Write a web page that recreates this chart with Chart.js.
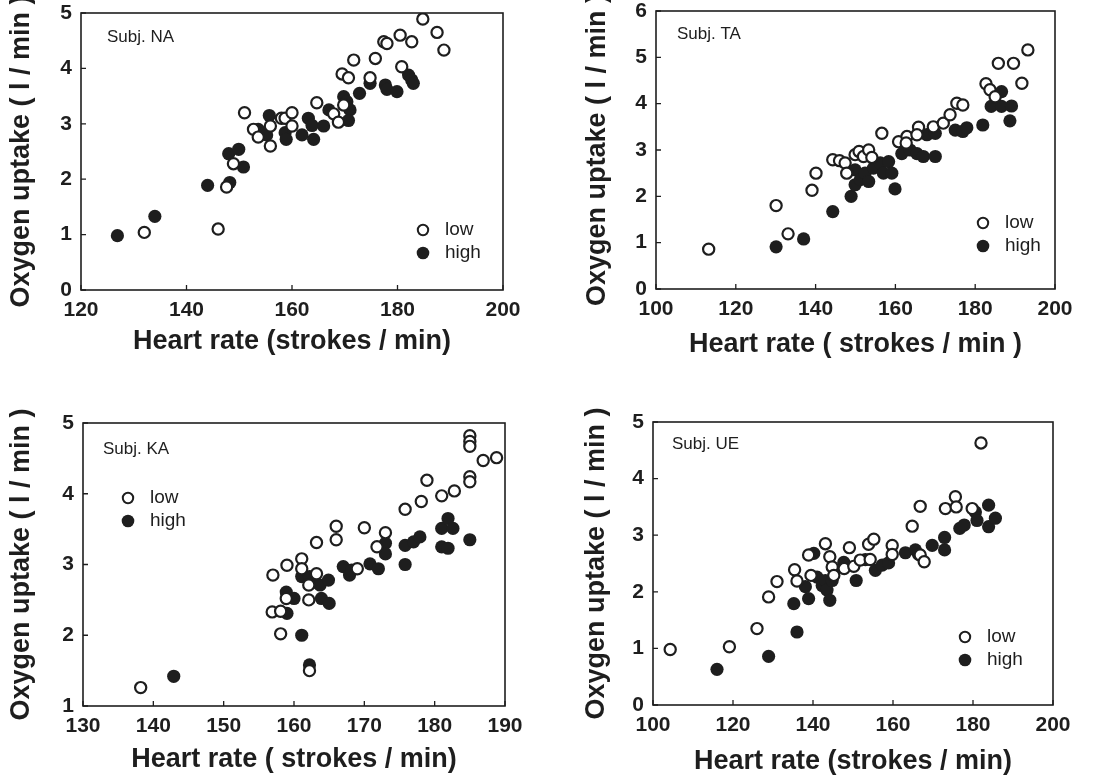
<!DOCTYPE html>
<html>
<head>
<meta charset="utf-8">
<script src="https://cdn.jsdelivr.net/npm/chart.js@4.4.0/dist/chart.umd.min.js"></script>
<style>
  html, body { margin: 0; padding: 0; background: #fff; }
  body { width: 1113px; height: 779px; position: relative; overflow: hidden; }
  canvas { position: absolute; }
</style>
</head>
<body>
<canvas id="c1" width="556" height="378" style="left:0;top:0"></canvas>
<canvas id="c2" width="557" height="378" style="left:556px;top:0"></canvas>
<canvas id="c3" width="556" height="389" style="left:0;top:390px"></canvas>
<canvas id="c4" width="557" height="389" style="left:556px;top:390px"></canvas>
<script>
// series: heart rate (strokes/min) and oxygen uptake (l/min)
const naLowHR   = [132, 146, 151, 147.6, 148.9, 152.7, 153.6, 155.9, 155.9, 158, 158.7, 160, 160, 164.7, 167.9, 168.8, 169.5, 170.7, 171.7, 169.8, 174.8, 175.8, 177.4, 178, 180.5, 180.8, 182.7, 184.8, 187.5, 188.8];
const naLowVO2  = [1.04, 1.10, 3.2, 1.86, 2.28, 2.9, 2.76, 2.96, 2.6, 3.1, 3.1, 3.2, 2.96, 3.38, 3.18, 3.03, 3.9, 3.83, 4.15, 3.34, 3.83, 4.18, 4.48, 4.45, 4.6, 4.03, 4.48, 4.89, 4.65, 4.33];
const naHighHR  = [126.9, 134, 144, 148, 148.2, 149.9, 150.8, 153.6, 154.6, 155.2, 155.7, 158.7, 158.9, 161.9, 163.1, 163.8, 164.1, 166, 167, 169.8, 170.4, 171, 170.7, 172.8, 174.8, 177.7, 178, 179.9, 182.1, 182.7, 183];
const naHighVO2 = [0.98, 1.33, 1.89, 2.46, 1.94, 2.54, 2.22, 2.9, 2.82, 2.8, 3.15, 2.84, 2.72, 2.8, 3.1, 2.97, 2.72, 2.96, 3.25, 3.49, 3.4, 3.25, 3.06, 3.55, 3.73, 3.7, 3.62, 3.58, 3.88, 3.79, 3.73];

const taLowHR   = [113.2, 130.1, 133.1, 139.1, 140.1, 144.3, 146, 147.4, 147.8, 149.9, 150.9, 152, 153.3, 154.1, 156.6, 160.8, 162.9, 162.7, 165.8, 165.4, 169.5, 172, 173.7, 175.4, 176.9, 182.7, 183.7, 185, 185.8, 189.6, 191.7, 193.2];
const taLowVO2  = [0.86, 1.80, 1.19, 2.13, 2.5, 2.79, 2.77, 2.72, 2.5, 2.9, 2.97, 2.86, 3.0, 2.84, 3.36, 3.18, 3.29, 3.15, 3.49, 3.33, 3.5, 3.58, 3.76, 4.01, 3.97, 4.43, 4.3, 4.15, 4.87, 4.87, 4.44, 5.16];
const taHighHR  = [130.1, 137, 144.3, 148.9, 149.9, 149.9, 151.2, 152.4, 153.3, 154.5, 156.2, 157, 158.3, 159.1, 159.9, 161.6, 163.7, 165.4, 167, 167.9, 170, 170, 175, 176.9, 177.9, 181.9, 184, 186.6, 186.6, 189.1, 188.7];
const taHighVO2 = [0.91, 1.08, 1.67, 2.0, 2.25, 2.57, 2.36, 2.5, 2.32, 2.61, 2.72, 2.5, 2.75, 2.5, 2.16, 2.92, 3.0, 2.92, 2.86, 3.33, 3.36, 2.86, 3.43, 3.4, 3.48, 3.54, 3.94, 4.26, 3.94, 3.95, 3.63];

const kaLowHR   = [138.2, 157, 156.9, 158.1, 158.1, 159, 158.9, 161.1, 161.1, 162.1, 162.1, 163.2, 163.2, 162.2, 166, 166, 169, 170, 171.8, 173, 175.8, 178.1, 178.9, 181, 182.8, 185, 185, 185, 185, 185, 186.9, 188.8];
const kaLowVO2  = [1.26, 2.85, 2.33, 2.34, 2.02, 2.99, 2.52, 3.08, 2.94, 2.71, 2.5, 3.31, 2.87, 1.5, 3.54, 3.35, 2.94, 3.52, 3.25, 3.45, 3.78, 3.89, 4.19, 3.97, 4.04, 4.82, 4.74, 4.67, 4.24, 4.17, 4.47, 4.51];
const kaHighHR  = [142.9, 159, 158.9, 160, 161.1, 161.1, 162.2, 162.2, 163, 163.7, 163.9, 165, 164.9, 167, 167.9, 168.2, 170.8, 172, 173, 173, 175.8, 175.8, 177, 177.9, 181, 181, 181.9, 181.9, 182.6, 185];
const kaHighVO2 = [1.42, 2.31, 2.61, 2.52, 2.0, 2.83, 2.83, 1.58, 2.75, 2.71, 2.52, 2.45, 2.78, 2.97, 2.85, 2.92, 3.01, 2.94, 3.3, 3.15, 3.0, 3.27, 3.32, 3.39, 3.51, 3.25, 3.23, 3.65, 3.51, 3.35];

const ueLowHR   = [104.3, 119.1, 126, 128.9, 131, 135.4, 136, 138.9, 139.5, 143.1, 144.2, 144.8, 145.2, 147.8, 149.1, 150.2, 151.8, 153.9, 155.2, 154.3, 159.8, 159.8, 164.8, 166.8, 166.8, 167.8, 173.1, 175.6, 175.8, 179.8, 182];
const ueLowVO2  = [0.98, 1.03, 1.35, 1.91, 2.18, 2.39, 2.19, 2.65, 2.29, 2.85, 2.62, 2.44, 2.29, 2.41, 2.78, 2.45, 2.56, 2.84, 2.93, 2.57, 2.82, 2.66, 3.16, 3.51, 2.65, 2.53, 3.47, 3.68, 3.5, 3.47, 4.63];
const ueHighHR  = [116, 128.9, 136, 135.2, 138.1, 138.9, 140.2, 141, 142.3, 143.1, 143.5, 144.2, 144.8, 147.7, 150.8, 153.1, 155.6, 157.3, 158.9, 163.1, 165.6, 166.4, 169.8, 172.9, 172.9, 176.7, 177.8, 180.6, 181, 183.9, 183.9, 185.6];
const ueHighVO2 = [0.63, 0.86, 1.29, 1.79, 2.09, 1.88, 2.68, 2.26, 2.11, 2.2, 2.03, 1.85, 2.2, 2.52, 2.2, 2.57, 2.38, 2.47, 2.51, 2.69, 2.74, 2.66, 2.82, 2.96, 2.74, 3.12, 3.18, 3.41, 3.26, 3.53, 3.15, 3.3];

const subjects = ['Subj. NA', 'Subj. TA', 'Subj. KA', 'Subj. UE'];
const legendLabels = ['low', 'high'];
const yTitle = 'Oxygen uptake ( l / min )';
const xTitles = ['Heart rate (strokes / min)', 'Heart rate ( strokes / min )', 'Heart rate ( strokes / min)', 'Heart rate (strokes / min)'];

const INK = '#1e1e1e';
const FONT = '"Liberation Sans", Arial, Helvetica, sans-serif';

function pts(xs, ys) {
    return xs.map(function (x, i) { return {x: x, y: ys[i]}; });
}

// frame, inward tick marks, subject label and in-plot legend
const decor = {
    id: 'decor',
    afterDraw(chart, args, opts) {
        const ctx = chart.ctx, a = chart.chartArea;
        ctx.save();
        ctx.strokeStyle = INK;
        ctx.lineWidth = 1.6;
        ctx.strokeRect(a.left, a.top, a.right - a.left, a.bottom - a.top);

        ctx.lineWidth = 1.3;
        ctx.beginPath();
        chart.scales.x.ticks.forEach(function (t) {
            const px = chart.scales.x.getPixelForValue(t.value);
            ctx.moveTo(px, a.bottom);
            ctx.lineTo(px, a.bottom - 5);
        });
        chart.scales.y.ticks.forEach(function (t) {
            const py = chart.scales.y.getPixelForValue(t.value);
            ctx.moveTo(a.left, py);
            ctx.lineTo(a.left + 5, py);
        });
        ctx.stroke();

        ctx.fillStyle = INK;
        ctx.font = '17px ' + FONT;
        ctx.textBaseline = 'middle';
        ctx.textAlign = 'left';
        ctx.fillText(opts.subject, a.left + opts.subjX, a.top + opts.subjY);

        const lx = opts.legLeft !== undefined ? a.left + opts.legLeft : a.right - opts.legRight;
        const ly = a.top + opts.legTop;
        ctx.font = '19px ' + FONT;
        ctx.lineWidth = 2;
        ctx.beginPath();
        ctx.arc(lx, ly, 5.2, 0, Math.PI * 2);
        ctx.stroke();
        ctx.beginPath();
        ctx.arc(lx, ly + 23, 6.3, 0, Math.PI * 2);
        ctx.fill();
        ctx.fillText(legendLabels[0], lx + 22, ly);
        ctx.fillText(legendLabels[1], lx + 22, ly + 23);
        ctx.restore();
    }
};

function makePanel(id, cfg) {
    const ctx = document.getElementById(id).getContext('2d');
    return new Chart(ctx, {
        type: 'scatter',
        data: {
            datasets: [
                {
                    label: legendLabels[0],
                    data: pts(cfg.lowX, cfg.lowY),
                    pointRadius: 5.6,
                    pointHoverRadius: 5.6,
                    borderWidth: 2.2,
                    borderColor: INK,
                    backgroundColor: '#ffffff'
                },
                {
                    label: legendLabels[1],
                    data: pts(cfg.highX, cfg.highY),
                    pointRadius: 6.6,
                    pointHoverRadius: 6.6,
                    borderWidth: 0,
                    borderColor: INK,
                    backgroundColor: INK
                }
            ]
        },
        options: {
            responsive: false,
            animation: false,
            events: [],
            layout: {padding: {top: cfg.padTop, right: cfg.padRight, left: 0, bottom: 0}},
            plugins: {
                legend: {display: false},
                tooltip: {enabled: false},
                decor: cfg.decor
            },
            scales: {
                x: {
                    type: 'linear',
                    min: cfg.xMin, max: cfg.xMax,
                    grid: {display: false, drawTicks: false},
                    border: {display: false},
                    ticks: {stepSize: cfg.xStep, autoSkip: false, maxRotation: 0, color: INK, padding: 8,
                        font: {family: FONT, size: 21, weight: 'bold'}},
                    title: {display: true, text: cfg.xTitle, color: INK,
                        font: {family: FONT, size: 27, weight: 'bold'}, padding: {top: 0, bottom: cfg.xTitlePad}},
                    afterFit(s) { s.height = cfg.xH; s.paddingLeft = 0; s.paddingRight = 0; }
                },
                y: {
                    min: cfg.yMin, max: cfg.yMax,
                    grid: {display: false, drawTicks: false},
                    border: {display: false},
                    ticks: {stepSize: 1, autoSkip: false, color: INK, padding: 9,
                        font: {family: FONT, size: 21, weight: 'bold'}},
                    title: {display: true, text: yTitle, color: INK,
                        font: {family: FONT, size: 27, weight: 'bold'}, padding: {top: cfg.yTitlePad, bottom: 0}},
                    afterFit(s) { s.width = cfg.yW; s.paddingTop = 0; s.paddingBottom = 0; }
                }
            }
        },
        plugins: [decor]
    });
}

makePanel('c1', {
    lowX: naLowHR, lowY: naLowVO2, highX: naHighHR, highY: naHighVO2,
    xMin: 120, xMax: 200, xStep: 20, yMin: 0, yMax: 5, xTitle: xTitles[0],
    yW: 81, xH: 88, padTop: 13, padRight: 53, xTitlePad: 20, yTitlePad: 5,
    decor: {subject: subjects[0], subjX: 26, subjY: 24, legRight: 80, legTop: 217}
});
makePanel('c2', {
    lowX: taLowHR, lowY: taLowVO2, highX: taHighHR, highY: taHighVO2,
    xMin: 100, xMax: 200, xStep: 20, yMin: 0, yMax: 6, xTitle: xTitles[1],
    yW: 100, xH: 89, padTop: 11, padRight: 58, xTitlePad: 17, yTitlePad: 25,
    decor: {subject: subjects[1], subjX: 21, subjY: 23, legRight: 72, legTop: 212}
});
makePanel('c3', {
    lowX: kaLowHR, lowY: kaLowVO2, highX: kaHighHR, highY: kaHighVO2,
    xMin: 130, xMax: 190, xStep: 10, yMin: 1, yMax: 5, xTitle: xTitles[2],
    yW: 83, xH: 73, padTop: 33, padRight: 51, xTitlePad: 3, yTitlePad: 5,
    decor: {subject: subjects[2], subjX: 20, subjY: 26, legLeft: 45, legTop: 75}
});
makePanel('c4', {
    lowX: ueLowHR, lowY: ueLowVO2, highX: ueHighHR, highY: ueHighVO2,
    xMin: 100, xMax: 200, xStep: 20, yMin: 0, yMax: 5, xTitle: xTitles[3],
    yW: 97, xH: 74, padTop: 32, padRight: 60, xTitlePad: 1, yTitlePad: 24,
    decor: {subject: subjects[3], subjX: 19, subjY: 22, legRight: 88, legTop: 215}
});
</script>
</body>
</html>
